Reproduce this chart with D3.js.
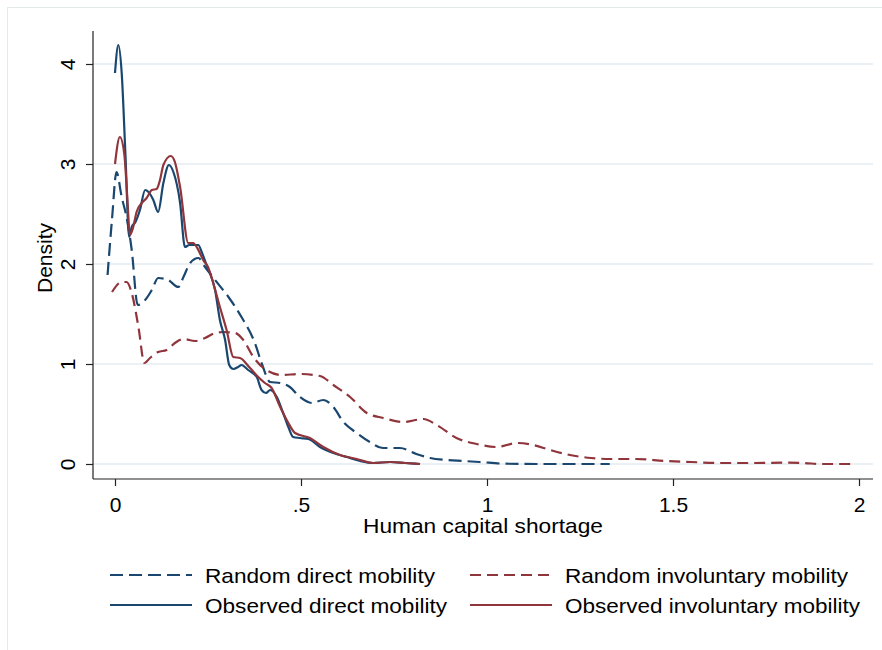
<!DOCTYPE html>
<html>
<head>
<meta charset="utf-8">
<script src="https://cdn.jsdelivr.net/npm/d3@7"></script>
<style>
  html, body { margin: 0; padding: 0; background: #fff; }
  svg { display: block; }
  text { font-family: "Liberation Sans", Arial, sans-serif; fill: #000; }
</style>
</head>
<body>
<svg id="chart" width="882" height="650"></svg>
<script>
// ---- data ----
const xTicks = [0, 0.5, 1, 1.5, 2];
const xTickLabels = ["0", ".5", "1", "1.5", "2"];
const yTicks = [0, 1, 2, 3, 4];
const yTickLabels = ["0", "1", "2", "3", "4"];

const seriesNames = ["Random direct mobility", "Random involuntary mobility",
                     "Observed direct mobility", "Observed involuntary mobility"];

const randomDirect = [
  [-0.02,1.89],[-0.008,2.45],[0.004,2.92],[0.018,2.67],[0.031,2.47],[0.045,2.14],[0.061,1.59],
  [0.081,1.64],[0.099,1.74],[0.116,1.86],[0.143,1.84],[0.17,1.77],[0.184,1.87],[0.202,2.01],
  [0.224,2.06],[0.242,1.97],[0.269,1.84],[0.305,1.67],[0.34,1.47],[0.376,1.21],[0.395,1.0],
  [0.417,0.82],[0.444,0.81],[0.47,0.77],[0.497,0.67],[0.529,0.61],[0.56,0.64],[0.587,0.57],
  [0.614,0.42],[0.65,0.31],[0.685,0.22],[0.72,0.16],[0.766,0.16],[0.81,0.10],[0.847,0.06],
  [0.89,0.04],[0.936,0.03],[0.98,0.02],[1.05,0.003],[1.15,0.0],[1.25,0.0],[1.33,0.0]
];
const randomInvoluntary = [
  [-0.008,1.72],[0.018,1.82],[0.031,1.82],[0.045,1.71],[0.063,1.37],[0.079,1.01],[0.094,1.06],
  [0.116,1.12],[0.139,1.14],[0.161,1.21],[0.184,1.25],[0.215,1.23],[0.242,1.26],[0.269,1.31],
  [0.291,1.32],[0.323,1.31],[0.345,1.24],[0.372,1.07],[0.399,0.96],[0.448,0.89],[0.497,0.90],
  [0.551,0.88],[0.587,0.79],[0.632,0.67],[0.677,0.51],[0.721,0.46],[0.775,0.42],[0.829,0.45],
  [0.865,0.39],[0.918,0.26],[0.972,0.20],[1.026,0.17],[1.08,0.21],[1.124,0.19],[1.17,0.14],
  [1.223,0.09],[1.28,0.06],[1.33,0.05],[1.4,0.05],[1.48,0.03],[1.55,0.02],[1.62,0.01],
  [1.71,0.01],[1.8,0.013],[1.85,0.01],[1.9,0.0],[1.985,0.0]
];
const observedDirect = [
  [0.0,3.91],[0.009,4.19],[0.018,3.91],[0.028,3.1],[0.038,2.27],[0.045,2.37],[0.055,2.42],
  [0.067,2.54],[0.081,2.74],[0.09,2.72],[0.103,2.64],[0.116,2.52],[0.13,2.81],[0.145,2.99],
  [0.157,2.92],[0.175,2.61],[0.188,2.17],[0.2,2.19],[0.224,2.19],[0.233,2.12],[0.246,1.99],
  [0.269,1.74],[0.282,1.44],[0.296,1.24],[0.307,0.99],[0.318,0.95],[0.331,0.97],[0.34,0.99],
  [0.358,0.94],[0.381,0.87],[0.394,0.74],[0.406,0.71],[0.417,0.74],[0.435,0.67],[0.452,0.51],
  [0.466,0.37],[0.479,0.27],[0.497,0.26],[0.52,0.25],[0.551,0.17],[0.587,0.11],[0.623,0.07],
  [0.659,0.03],[0.694,0.01],[0.74,0.02],[0.78,0.01],[0.82,0.0]
];
const observedInvoluntary = [
  [0.0,3.0],[0.013,3.27],[0.025,3.1],[0.033,2.67],[0.04,2.29],[0.049,2.37],[0.058,2.52],
  [0.072,2.61],[0.085,2.66],[0.099,2.74],[0.112,2.75],[0.121,2.84],[0.13,2.99],[0.15,3.08],
  [0.161,3.02],[0.175,2.77],[0.197,2.21],[0.21,2.21],[0.224,2.14],[0.237,2.04],[0.25,1.97],
  [0.264,1.81],[0.282,1.57],[0.3,1.34],[0.318,1.07],[0.336,1.06],[0.363,0.96],[0.385,0.87],
  [0.403,0.81],[0.421,0.76],[0.444,0.57],[0.466,0.41],[0.484,0.31],[0.524,0.26],[0.56,0.17],
  [0.605,0.09],[0.65,0.05],[0.694,0.01],[0.74,0.02],[0.78,0.01],[0.82,0.0]
];

// ---- layout ----
const svg = d3.select("#chart");
const plot = { left: 93, right: 873, top: 31, bottom: 479 };
const x = d3.scaleLinear().domain([0, 2]).range([115, 859]);
const y = d3.scaleLinear().domain([0, 4]).range([464, 64]);

const blue = "#1a476f", red = "#90353b";
const styles = [
  { data: randomDirect, color: blue, dash: "13,6", width: 230 },
  { data: randomInvoluntary, color: red, dash: "11,6", width: 283 },
  { data: observedDirect, color: blue, dash: null, width: 242 },
  { data: observedInvoluntary, color: red, dash: null, width: 295 }
];

// outer light frame
svg.append("rect").attr("x", 7.5).attr("y", 7.5).attr("width", 900).attr("height", 700)
  .attr("fill", "none").attr("stroke", "#e3eaea").attr("stroke-width", 1);

// gridlines
svg.append("g").selectAll("line").data(yTicks).join("line")
  .attr("x1", plot.left).attr("x2", plot.right)
  .attr("y1", d => y(d)).attr("y2", d => y(d))
  .attr("stroke", "#eaf0f3").attr("stroke-width", 2);

// y axis
const yAxis = d3.axisLeft(y).tickValues(yTicks).tickFormat((d, i) => yTickLabels[i])
  .tickSize(7).tickPadding(11);
const gy = svg.append("g").attr("transform", `translate(${plot.left},0)`).call(yAxis);
gy.select(".domain").remove();
svg.append("line").attr("x1", plot.left).attr("x2", plot.left)
  .attr("y1", plot.top).attr("y2", plot.bottom).attr("stroke", "#222").attr("stroke-width", 1.2);
gy.selectAll(".tick line").attr("stroke", "#222").attr("stroke-width", 1.2);
gy.selectAll(".tick text")
  .attr("font-size", 21)
  .attr("x", null).attr("dy", null)
  .attr("text-anchor", "middle")
  .attr("transform", "translate(-18,0) rotate(-90)")
  .attr("y", 0);

// x axis
const xAxis = d3.axisBottom(x).tickValues(xTicks).tickFormat((d, i) => xTickLabels[i])
  .tickSize(7).tickPadding(12);
const gx = svg.append("g").attr("transform", `translate(0,${plot.bottom})`).call(xAxis);
gx.select(".domain").remove();
svg.append("line").attr("x1", plot.left).attr("x2", plot.right)
  .attr("y1", plot.bottom).attr("y2", plot.bottom).attr("stroke", "#222").attr("stroke-width", 1.2);
gx.selectAll(".tick line").attr("stroke", "#222").attr("stroke-width", 1.2);
gx.selectAll(".tick text").attr("font-size", 21).attr("dy", null).attr("y", 33);

// axis titles
svg.append("text").attr("x", (plot.left + plot.right) / 2).attr("y", 533)
  .attr("text-anchor", "middle").attr("font-size", 21)
  .attr("textLength", 240).attr("lengthAdjust", "spacingAndGlyphs")
  .text("Human capital shortage");
svg.append("text").attr("transform", `translate(52,${(plot.top + plot.bottom) / 2 + 3}) rotate(-90)`)
  .attr("text-anchor", "middle").attr("font-size", 21).text("Density");

// lines
const line = d3.line().x(d => x(d[0])).y(d => y(d[1])).curve(d3.curveMonotoneX);
svg.append("g").selectAll("path").data(styles).join("path")
  .attr("d", d => line(d.data))
  .attr("fill", "none")
  .attr("stroke", d => d.color)
  .attr("stroke-width", 2.2)
  .attr("stroke-linejoin", "round")
  .attr("stroke-dasharray", d => d.dash);

// legend
const legendPos = [
  { lx: 110, ty: 575 }, { lx: 470, ty: 575 },
  { lx: 110, ty: 605 }, { lx: 470, ty: 605 }
];
const lg = svg.append("g").selectAll("g").data(styles).join("g")
  .attr("transform", (d, i) => `translate(${legendPos[i].lx},${legendPos[i].ty})`);
lg.append("line").attr("x1", 0).attr("x2", 82).attr("y1", 0).attr("y2", 0)
  .attr("stroke", d => d.color).attr("stroke-width", 2.2)
  .attr("stroke-dasharray", d => d.dash);
lg.append("text").attr("x", 95).attr("y", 8).attr("font-size", 21)
  .attr("textLength", d => d.width).attr("lengthAdjust", "spacingAndGlyphs")
  .text((d, i) => seriesNames[i]);
</script>
</body>
</html>
